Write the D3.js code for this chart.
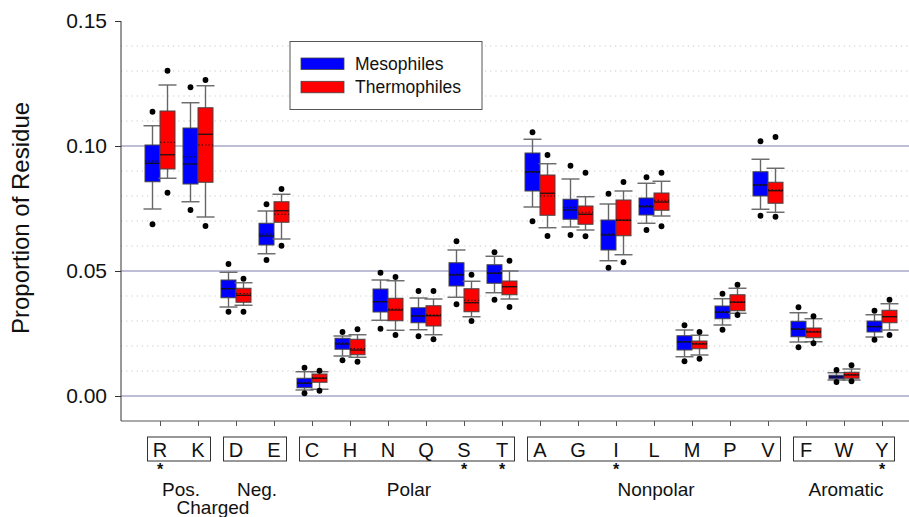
<!DOCTYPE html>
<html><head><meta charset="utf-8">
<script src="https://cdn.jsdelivr.net/npm/d3@7"></script>
<style>body{margin:0;background:#fff}svg{display:block;font-family:Arial,"Liberation Sans",sans-serif}</style>
</head><body>
<svg id="chart" width="909" height="517"></svg>
<script>
const categories = ["R","K","D","E","C","H","N","Q","S","T","A","G","I","L","M","P","V","F","W","Y"];
const seriesNames = ["Mesophiles","Thermophiles"];
const seriesColors = ["#0000ff","#ff0000"];
const yTicks = [0.00,0.05,0.10,0.15];
const yTickLabels = ["0.00","0.05","0.10","0.15"];
const minorTicks = [0.01,0.02,0.03,0.04,0.06,0.07,0.08,0.09,0.11,0.12,0.13,0.14];

// Mesophiles
const mesoOutHigh  = [.1137,.1235,.0528,.0767,.0113,.0256,.0493,.0420,.0619,.0575,.1055,.0921,.0809,.0875,.0283,.0409,.1019,.0355,.0104,.0341];
const mesoWhiskHigh= [.1081,.1173,.0495,.0740,.0097,.0240,.0464,.0392,.0584,.0559,.1027,.0868,.0768,.0851,.0264,.0389,.0947,.0333,.0093,.0325];
const mesoQ3       = [.1004,.1072,.0464,.0691,.0071,.0231,.0428,.0353,.0533,.0525,.0972,.0787,.0704,.0792,.0241,.0360,.0897,.0299,.0083,.0300];
const mesoMedian   = [.0931,.0928,.0429,.0640,.0051,.0208,.0377,.0320,.0484,.0491,.0897,.0744,.0644,.0757,.0216,.0335,.0844,.0267,.0076,.0277];
const mesoMean     = [.0940,.0957,.0430,.0648,.0055,.0212,.0378,.0322,.0487,.0493,.0895,.0755,.0648,.0762,.0218,.0337,.0845,.0270,.0077,.0279];
const mesoQ1       = [.0857,.0848,.0393,.0604,.0033,.0187,.0336,.0293,.0440,.0451,.0820,.0707,.0584,.0724,.0184,.0309,.0800,.0237,.0069,.0256];
const mesoWhiskLow = [.0748,.0777,.0356,.0569,.0024,.0160,.0303,.0265,.0395,.0413,.0756,.0676,.0541,.0691,.0157,.0284,.0747,.0216,.0064,.0236];
const mesoOutLow   = [.0687,.0744,.0337,.0544,.0011,.0143,.0269,.0239,.0367,.0385,.0699,.0644,.0513,.0664,.0139,.0265,.0721,.0195,.0056,.0225];
// Thermophiles
const thermoOutHigh  = [.1301,.1264,.0469,.0828,.0101,.0267,.0476,.0420,.0485,.0541,.0964,.0893,.0856,.0893,.0256,.0445,.1036,.0319,.0123,.0385];
const thermoWhiskHigh= [.1244,.1241,.0453,.0807,.0097,.0245,.0461,.0388,.0459,.0500,.0929,.0797,.0820,.0859,.0243,.0431,.0911,.0309,.0108,.0369];
const thermoQ3       = [.1140,.1153,.0431,.0777,.0088,.0227,.0391,.0361,.0429,.0460,.0884,.0760,.0784,.0812,.0220,.0405,.0855,.0272,.0095,.0343];
const thermoMedian   = [.0965,.1047,.0403,.0741,.0071,.0184,.0344,.0321,.0373,.0437,.0811,.0727,.0703,.0776,.0208,.0375,.0821,.0256,.0084,.0317];
const thermoMean     = [.1015,.1004,.0410,.0727,.0073,.0190,.0348,.0325,.0383,.0438,.0800,.0735,.0705,.0783,.0210,.0377,.0825,.0259,.0086,.0318];
const thermoQ1       = [.0908,.0855,.0375,.0695,.0055,.0165,.0301,.0280,.0337,.0405,.0723,.0687,.0641,.0743,.0189,.0341,.0771,.0233,.0071,.0293];
const thermoWhiskLow = [.0871,.0716,.0363,.0628,.0027,.0155,.0263,.0245,.0317,.0388,.0673,.0664,.0565,.0720,.0164,.0331,.0735,.0217,.0064,.0264];
const thermoOutLow   = [.0813,.0680,.0337,.0601,.0021,.0137,.0244,.0227,.0300,.0356,.0640,.0639,.0535,.0679,.0149,.0324,.0717,.0211,.0059,.0244];

const groupFirst = ["R","D","C","A","F"];
const groupLast  = ["K","E","T","V","Y"];
const groupLabels = ["Pos.","Neg.","Polar","Nonpolar","Aromatic"];
const superLabel = "Charged";
const superFirst = "R", superLast = "E";
const significant = ["R","S","T","I","Y"];
const yTitle = "Proportion of Residue";

const svg = d3.select("#chart");
const x = d3.scalePoint().domain(categories).range([160, 882]);
const y = d3.scaleLinear().domain([-0.01, 0.15]).range([421, 21]);
const axisX = 121, plotRight = 909;
const bw = 15, capW = 18;

// minor dotted grid
svg.append("g").selectAll("line").data(minorTicks).join("line")
  .attr("x1", axisX).attr("x2", plotRight)
  .attr("y1", d => y(d)).attr("y2", d => y(d))
  .attr("stroke", "#c8c8c8").attr("stroke-width", 1).attr("stroke-dasharray", "1.2,4");
// major grid
svg.append("g").selectAll("line").data(yTicks.filter(d => d < 0.15)).join("line")
  .attr("x1", axisX).attr("x2", plotRight)
  .attr("y1", d => y(d)).attr("y2", d => y(d))
  .attr("stroke", "#a8a8c8").attr("stroke-width", 1.3);

// y axis
const yAxis = d3.axisLeft(y).tickValues(yTicks).tickFormat((d, i) => yTickLabels[i]).tickSize(6).tickPadding(8);
const gy = svg.append("g").attr("transform", `translate(${axisX},0)`).call(yAxis);
gy.select(".domain").attr("d", `M0,${y(0.15)}V${y(-0.01)}`).attr("stroke", "#333");
gy.selectAll(".tick line").attr("stroke", "#333");
gy.selectAll(".tick text").attr("font-size", 21).attr("fill", "#111").attr("font-family", "Arial,'Liberation Sans',sans-serif");

// x axis
const xAxis = d3.axisBottom(x).tickSize(5).tickFormat("");
const gx = svg.append("g").attr("transform", `translate(0,${y(-0.01)})`).call(xAxis);
gx.select(".domain").attr("d", `M${axisX},0H${plotRight}`).attr("stroke", "#555");
gx.selectAll(".tick line").attr("stroke", "#555");

// y title
svg.append("text").attr("transform", `translate(29,218) rotate(-90)`)
  .attr("text-anchor", "middle").attr("font-size", 24).attr("fill", "#111").text(yTitle);

// boxes
const series = [
  {name: seriesNames[0], color: seriesColors[0], off: -bw,
   oh: mesoOutHigh, wh: mesoWhiskHigh, q3: mesoQ3, md: mesoMedian, mn: mesoMean, q1: mesoQ1, wl: mesoWhiskLow, ol: mesoOutLow},
  {name: seriesNames[1], color: seriesColors[1], off: 0,
   oh: thermoOutHigh, wh: thermoWhiskHigh, q3: thermoQ3, md: thermoMedian, mn: thermoMean, q1: thermoQ1, wl: thermoWhiskLow, ol: thermoOutLow}
];
series.forEach(s => {
  const g = svg.append("g");
  categories.forEach((c, i) => {
    const x0 = x(c) + s.off, xc = x0 + bw / 2;
    g.append("line").attr("x1", xc).attr("x2", xc).attr("y1", y(s.wh[i])).attr("y2", y(s.q3[i])).attr("stroke", "#666").attr("stroke-width", 1.4);
    g.append("line").attr("x1", xc).attr("x2", xc).attr("y1", y(s.q1[i])).attr("y2", y(s.wl[i])).attr("stroke", "#666").attr("stroke-width", 1.4);
    g.append("line").attr("x1", xc - capW / 2).attr("x2", xc + capW / 2).attr("y1", y(s.wh[i])).attr("y2", y(s.wh[i])).attr("stroke", "#666").attr("stroke-width", 1.4);
    g.append("line").attr("x1", xc - capW / 2).attr("x2", xc + capW / 2).attr("y1", y(s.wl[i])).attr("y2", y(s.wl[i])).attr("stroke", "#666").attr("stroke-width", 1.4);
    g.append("rect").attr("x", x0).attr("width", bw).attr("y", y(s.q3[i])).attr("height", y(s.q1[i]) - y(s.q3[i]))
      .attr("fill", s.color).attr("stroke", "#444").attr("stroke-width", 1);
    g.append("line").attr("x1", x0).attr("x2", x0 + bw).attr("y1", y(s.md[i])).attr("y2", y(s.md[i])).attr("stroke", "#111").attr("stroke-width", 1.2);
    g.append("line").attr("x1", x0).attr("x2", x0 + bw).attr("y1", y(s.mn[i])).attr("y2", y(s.mn[i])).attr("stroke", "#111").attr("stroke-width", 1).attr("stroke-dasharray", "1.5,2");
    g.append("circle").attr("cx", xc).attr("cy", y(s.oh[i])).attr("r", 2.9).attr("fill", "#000");
    g.append("circle").attr("cx", xc).attr("cy", y(s.ol[i])).attr("r", 2.9).attr("fill", "#000");
  });
});

// legend
const lg = svg.append("g");
lg.append("rect").attr("x", 290).attr("y", 41.5).attr("width", 192).attr("height", 68).attr("fill", "#fff").attr("stroke", "#555").attr("stroke-width", 1);
series.forEach((s, i) => {
  lg.append("rect").attr("x", 301).attr("y", 58 + i * 23.3).attr("width", 43).attr("height", 11.5).attr("fill", s.color).attr("stroke", "#444").attr("stroke-width", 0.8);
  lg.append("text").attr("x", 355).attr("y", 70 + i * 23.3).attr("font-size", 17.5).attr("fill", "#111").text(s.name);
});

// category labels in boxes
const lab = svg.append("g");
groupFirst.forEach((f, i) => {
  const x1 = x(f) - 12.5, x2 = x(groupLast[i]) + 12.5;
  lab.append("rect").attr("x", x1).attr("y", 437).attr("width", x2 - x1).attr("height", 24).attr("fill", "none").attr("stroke", "#333").attr("stroke-width", 1);
  lab.append("text").attr("x", (x(f) + x(groupLast[i])) / 2 + 2).attr("y", 495.7).attr("text-anchor", "middle").attr("font-size", 19).attr("fill", "#111").text(groupLabels[i]);
});
lab.selectAll("text.cat").data(categories).join("text").attr("class", "cat")
  .attr("x", d => x(d)).attr("y", 456.5).attr("text-anchor", "middle").attr("font-size", 20).attr("fill", "#111").text(d => d);
lab.selectAll("text.sig").data(significant).join("text").attr("class", "sig")
  .attr("x", d => x(d)).attr("y", 475.2).attr("text-anchor", "middle").attr("font-size", 16).attr("font-weight", "bold").attr("fill", "#111").text("*");
lab.append("text").attr("x", (x(superFirst) + x(superLast)) / 2 - 4).attr("y", 514).attr("text-anchor", "middle").attr("font-size", 19).attr("fill", "#111").text(superLabel);
</script>
</body></html>
